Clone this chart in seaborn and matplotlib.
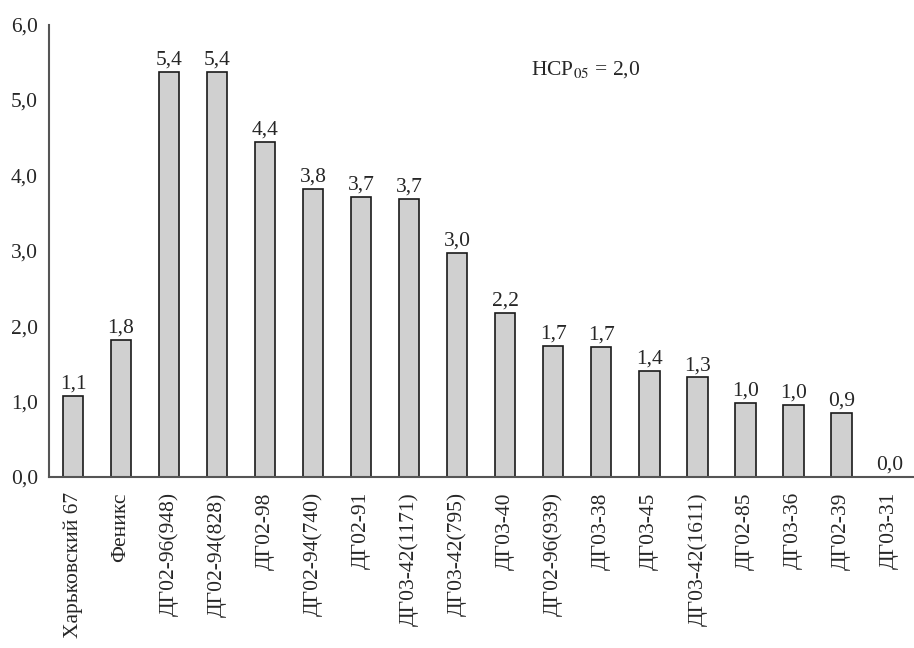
import matplotlib
matplotlib.use("Agg")
import matplotlib.pyplot as plt
import numpy as np
import pandas as pd
import seaborn as sns
from matplotlib.ticker import FixedLocator, FuncFormatter, MultipleLocator

# ── Data ────────────────────────────────────────────────────
varieties = [
    "Харьковский 67", "Феникс", "ДГ02-96(948)", "ДГ02-94(828)", "ДГ02-98",
    "ДГ02-94(740)", "ДГ02-91", "ДГ03-42(1171)", "ДГ03-42(795)", "ДГ03-40",
    "ДГ02-96(939)", "ДГ03-38", "ДГ03-45", "ДГ03-42(1611)", "ДГ02-85",
    "ДГ03-36", "ДГ02-39", "ДГ03-31",
]
values = [1.08, 1.82, 5.37, 5.37, 4.44, 3.82, 3.71, 3.69, 2.97, 2.18,
          1.74, 1.72, 1.41, 1.32, 0.98, 0.96, 0.85, 0.0]
value_labels = ["1,1", "1,8", "5,4", "5,4", "4,4", "3,8", "3,7", "3,7", "3,0", "2,2",
                "1,7", "1,7", "1,4", "1,3", "1,0", "1,0", "0,9", "0,0"]
lsd_text = "НСР$_{05}$ = 2,0"

df = pd.DataFrame({"variety": varieties, "value": values})

# ── Styling ──────────────────────────────
sns.set_style("white")
plt.rcParams.update({
    "font.family": ["Liberation Serif", "DejaVu Serif"],
    "mathtext.fontset": "stix",
})
FS = 15.5

fig = plt.figure(figsize=(9.14, 6.48), dpi=100)
ax = fig.add_axes([0.0536, 0.264, 0.946, 0.698])

sns.barplot(data=df, x="variety", y="value", order=varieties,
            color="#d0d0d0", edgecolor="#1a1a1a", linewidth=1.2,
            width=0.42, saturation=1, ax=ax)

for i, lab in enumerate(value_labels):
    ax.text(i, values[i] + 0.03, lab, ha="center", va="bottom", fontsize=FS)

ax.text(10.67, 5.4, lsd_text, ha="center", va="center", fontsize=FS)

ax.set_xlim(-0.5, 17.5)
ax.set_ylim(0, 6)
ax.set_xlabel("")
ax.set_ylabel("")

ax.yaxis.set_major_locator(MultipleLocator(1))
ax.yaxis.set_minor_locator(MultipleLocator(0.5))
ax.yaxis.set_major_formatter(FuncFormatter(lambda v, p: f"{v:.1f}".replace(".", ",")))
ax.tick_params(axis="y", which="both", direction="in", length=6, width=1.2,
               color="#555555", labelsize=FS, pad=8)

ax.xaxis.set_minor_locator(FixedLocator(np.arange(0.5, 17.5, 1)))
ax.tick_params(axis="x", which="major", length=0, pad=11, labelsize=FS)
ax.tick_params(axis="x", which="minor", direction="in", length=5, width=1.2, color="#555555")
plt.setp(ax.get_xticklabels(), rotation=90, va="top", ha="center")

for side in ["top", "right"]:
    ax.spines[side].set_visible(False)
for side in ["left", "bottom"]:
    ax.spines[side].set_color("#555555")
    ax.spines[side].set_linewidth(1.5)

fig.savefig("out.png", dpi=100, facecolor="white")
